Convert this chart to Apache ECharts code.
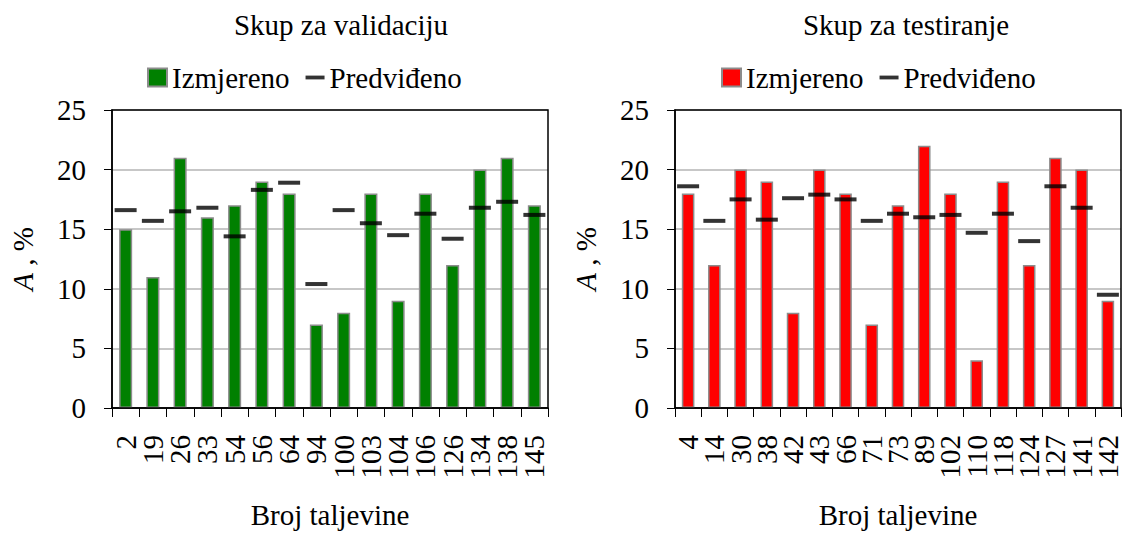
<!DOCTYPE html>
<html>
<head>
<meta charset="utf-8">
<script src="https://cdn.jsdelivr.net/npm/echarts@6/dist/echarts.min.js"></script>
<style>
  body { margin: 0; background: #fff; }
  .box { position: absolute; top: 0; height: 534px; }
</style>
</head>
<body>
<div id="lijevo" class="box" style="left:0;width:561px;"></div>
<div id="desno" class="box" style="left:561px;width:562px;"></div>
<script>
// skup za validaciju
var valCats = ['2', '19', '26', '33', '54', '56', '64', '94', '100', '103', '104', '106', '126', '134', '138', '145'];
var valMeasured = [15, 11, 21, 16, 17, 19, 18, 7, 8, 18, 9, 18, 12, 20, 21, 17];
var valPredicted = [16.6, 15.7, 16.5, 16.8, 14.4, 18.3, 18.9, 10.4, 16.6, 15.5, 14.5, 16.3, 14.2, 16.8, 17.3, 16.2];

// skup za testiranje
var testCats = ['4', '14', '30', '38', '42', '43', '66', '71', '73', '89', '102', '110', '118', '124', '127', '141', '142'];
var testMeasured = [18, 12, 20, 19, 8, 20, 18, 7, 17, 22, 18, 4, 19, 12, 21, 20, 9];
var testPredicted = [18.6, 15.7, 17.5, 15.8, 17.6, 17.9, 17.5, 15.7, 16.3, 16.0, 16.2, 14.7, 16.3, 14.0, 18.6, 16.8, 9.5];

var yTicks = [0, 5, 10, 15, 20, 25];

var FONT = "'Liberation Serif', 'Times New Roman', serif";
var FS = 29;

function makeOption(title, titleX, legendX, gridLeft, gridRight, cats, measured, predicted, barColor) {
  return {
    animation: false,
    textStyle: { fontFamily: FONT, color: '#000' },
    title: {
      text: title,
      left: titleX,
      top: 5,
      textAlign: 'center',
      textStyle: { fontFamily: FONT, fontSize: FS, fontWeight: 'normal', color: '#000' }
    },
    legend: {
      left: legendX,
      top: 58,
      itemWidth: 19,
      itemHeight: 18,
      itemGap: 16,
      textStyle: { fontFamily: FONT, fontSize: FS, color: '#000' },
      data: [
        { name: 'Izmjereno', icon: 'rect' },
        { name: 'Predviđeno', icon: 'path://M0,0 H20 V4 H0 Z' }
      ]
    },
    grid: {
      left: gridLeft,
      right: gridRight,
      top: 110,
      bottom: 117,
      show: true,
      borderColor: '#000',
      borderWidth: 1.5,
      backgroundColor: 'transparent',
      z: 3
    },
    xAxis: {
      type: 'category',
      data: cats,
      name: 'Broj taljevine',
      nameLocation: 'middle',
      nameGap: 92,
      nameTextStyle: { fontFamily: FONT, fontSize: FS, color: '#000' },
      axisLine: { lineStyle: { color: '#000', width: 1.5 } },
      axisTick: { show: true, length: 9, lineStyle: { color: '#000' } },
      axisLabel: { rotate: 90, margin: 27, fontFamily: FONT, fontSize: FS, color: '#000', interval: 0 }
    },
    yAxis: {
      type: 'value',
      min: yTicks[0],
      max: yTicks[yTicks.length - 1],
      interval: yTicks[1] - yTicks[0],
      name: '{i|A} , %',
      nameLocation: 'middle',
      nameGap: 75,
      nameRotate: 90,
      nameTextStyle: {
        fontFamily: FONT, fontSize: FS, color: '#000',
        rich: { i: { fontFamily: FONT, fontSize: FS, fontStyle: 'italic', color: '#000' } }
      },
      axisLine: { show: true, lineStyle: { color: '#000', width: 1.5 } },
      axisTick: { show: true, inside: false, length: 8, lineStyle: { color: '#000' } },
      axisLabel: { margin: 26, fontFamily: FONT, fontSize: FS, color: '#000' },
      splitLine: { show: true, lineStyle: { color: '#b4b4b4', width: 1.5 } }
    },
    series: [
      {
        name: 'Izmjereno',
        type: 'bar',
        data: measured,
        barWidth: '48%',
        itemStyle: { color: barColor, borderColor: '#8c8c8c', borderWidth: 1.5 }
      },
      {
        name: 'Predviđeno',
        type: 'scatter',
        data: predicted,
        symbol: 'rect',
        symbolSize: [22, 4],
        itemStyle: { color: '#000' },
        z: 5
      }
    ]
  };
}

var lijevo = echarts.init(document.getElementById('lijevo'), null, { renderer: 'svg' });
lijevo.setOption(makeOption('Skup za validaciju', 336, 142, 105, 13,
  valCats, valMeasured, valPredicted, '#008000'));

var desno = echarts.init(document.getElementById('desno'), null, { renderer: 'svg' });
desno.setOption(makeOption('Skup za testiranje', 340, 155, 114, 2,
  testCats, testMeasured, testPredicted, '#ff0000'));
</script>
</body>
</html>
